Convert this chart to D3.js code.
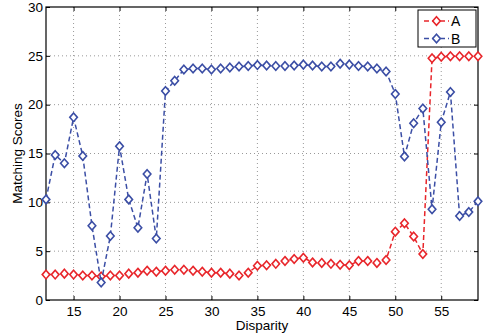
<!DOCTYPE html>
<html>
<head>
<meta charset="utf-8">
<script src="https://cdn.jsdelivr.net/npm/d3@7"></script>
<style>
  body { margin: 0; background: #fff; }
  text { font-family: "Liberation Sans", Arial, sans-serif; }
</style>
</head>
<body>
<div id="container"></div>
<script>
/* DATA */
const disparity = d3.range(12, 60);
const seriesA = [2.6, 2.6, 2.7, 2.6, 2.5, 2.5, 2.4, 2.5, 2.5, 2.7, 2.8, 3.0, 2.9, 3.0,
  3.1, 3.1, 3.0, 2.9, 2.8, 2.8, 2.7, 2.5, 2.8, 3.5, 3.55, 3.7, 4.0, 4.2, 4.33, 3.85,
  3.8, 3.7, 3.6, 3.55, 4.0, 4.0, 3.8, 4.1, 7.0, 7.85, 6.5, 4.7, 24.75, 24.9, 24.95,
  24.95, 24.95, 24.95];
const seriesB = [10.3, 14.85, 14.0, 18.7, 14.75, 7.6, 1.8, 6.55, 15.75, 10.3, 7.4, 12.9,
  6.3, 21.4, 22.45, 23.6, 23.7, 23.7, 23.6, 23.7, 23.8, 23.9, 23.95, 24.05, 24.0,
  23.95, 23.95, 24.0, 24.1, 24.0, 23.9, 23.9, 24.2, 24.1, 23.95, 23.9, 23.7, 23.4,
  21.1, 14.7, 18.1, 19.6, 9.3, 18.2, 21.3, 8.6, 9.0, 10.1];
const seriesNames = ["A", "B"];
const seriesColors = ["#e8262b", "#3b4ea5"];
const xTicks = [15, 20, 25, 30, 35, 40, 45, 50, 55];
const yTicks = [0, 5, 10, 15, 20, 25, 30];

/* LAYOUT */
const width = 486, height = 335;
const margin = { top: 7, right: 8, bottom: 35, left: 46 };
const fontSize = "13.5px";

const svg = d3.select("#container").append("svg")
  .attr("width", width).attr("height", height);

const x = d3.scaleLinear().domain([12, 59]).range([margin.left, width - margin.right]);
const y = d3.scaleLinear().domain([0, 30]).range([height - margin.bottom, margin.top]);

// grid
svg.append("g").selectAll("line").data(xTicks).join("line")
  .attr("x1", d => x(d)).attr("x2", d => x(d))
  .attr("y1", y(0)).attr("y2", y(30))
  .attr("stroke", "#999").attr("stroke-width", 1).attr("stroke-dasharray", "1,3");
svg.append("g").selectAll("line").data(yTicks.slice(1, -1)).join("line")
  .attr("x1", x(12)).attr("x2", x(59))
  .attr("y1", d => y(d)).attr("y2", d => y(d))
  .attr("stroke", "#999").attr("stroke-width", 1).attr("stroke-dasharray", "1,3");

// axes (inward ticks, box)
const axisStyle = g => {
  g.select(".domain").remove();
  g.selectAll("line").attr("stroke", "#000");
  g.selectAll("text").attr("font-size", fontSize).attr("fill", "#000");
};
svg.append("g").attr("transform", `translate(0,${y(0)})`)
  .call(d3.axisBottom(x).tickValues(xTicks).tickSize(-4).tickPadding(6))
  .call(axisStyle);
svg.append("g").attr("transform", `translate(0,${y(30)})`)
  .call(d3.axisTop(x).tickValues(xTicks).tickSize(-4).tickFormat(""))
  .call(axisStyle);
svg.append("g").attr("transform", `translate(${x(12)},0)`)
  .call(d3.axisLeft(y).tickValues(yTicks).tickSize(-4).tickPadding(3))
  .call(axisStyle);
svg.append("g").attr("transform", `translate(${x(59)},0)`)
  .call(d3.axisRight(y).tickValues(yTicks).tickSize(-4).tickFormat(""))
  .call(axisStyle);

svg.append("rect")
  .attr("x", x(12)).attr("y", y(30))
  .attr("width", x(59) - x(12)).attr("height", y(0) - y(30))
  .attr("fill", "none").attr("stroke", "#000").attr("stroke-width", 1.2);

// series
const diamond = "M0,-4.3L3.8,0L0,4.3L-3.8,0Z";
const series = [seriesA, seriesB];
const line = d3.line().x((d, i) => x(disparity[i])).y(d => y(d));

series.forEach((vals, k) => {
  const g = svg.append("g");
  g.append("path").datum(vals)
    .attr("d", line)
    .attr("fill", "none").attr("stroke", seriesColors[k])
    .attr("stroke-width", 1.5).attr("stroke-dasharray", "5,3");
  g.selectAll("path.pt").data(vals).join("path").attr("class", "pt")
    .attr("d", diamond)
    .attr("transform", (d, i) => `translate(${x(disparity[i])},${y(d)})`)
    .attr("fill", "#fff").attr("stroke", seriesColors[k]).attr("stroke-width", 1.6);
});

// legend
const leg = svg.append("g");
leg.append("rect").attr("x", 418).attr("y", 10).attr("width", 58).attr("height", 37)
  .attr("fill", "#fff").attr("stroke", "#000").attr("stroke-width", 1);
seriesNames.forEach((name, k) => {
  const ly = 21 + k * 17.5;
  leg.append("line").attr("x1", 424).attr("x2", 449).attr("y1", ly).attr("y2", ly)
    .attr("stroke", seriesColors[k]).attr("stroke-width", 1.5).attr("stroke-dasharray", "5,3");
  leg.append("path").attr("d", diamond).attr("transform", `translate(436.5,${ly})`)
    .attr("fill", "#fff").attr("stroke", seriesColors[k]).attr("stroke-width", 1.6);
  leg.append("text").attr("x", 451).attr("y", ly + 5).attr("font-size", "14px").text(name);
});

// axis labels
svg.append("text").attr("x", (x(12) + x(59)) / 2).attr("y", 330)
  .attr("text-anchor", "middle").attr("font-size", fontSize).text("Disparity");
svg.append("text")
  .attr("transform", `translate(22,${(y(0) + y(30)) / 2}) rotate(-90)`)
  .attr("text-anchor", "middle").attr("font-size", fontSize).text("Matching Scores");
</script>
</body>
</html>
